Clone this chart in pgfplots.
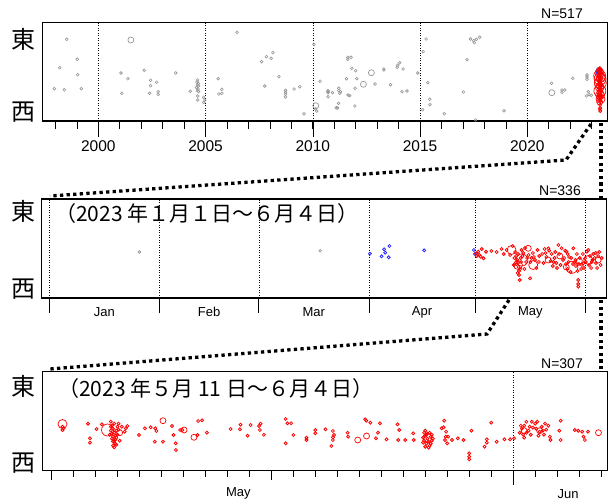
\documentclass[border=0pt]{standalone}
\usepackage{fontspec}
\setmainfont{Liberation Sans}
\newfontfamily\jp{Noto Sans CJK JP}
\usepackage{pgfplots}
\pgfplotsset{compat=1.18}
\definecolor{ptgray}{RGB}{150,150,150}
\definecolor{ptred}{RGB}{255,0,0}
\definecolor{ptblue}{RGB}{40,40,255}
\pgfplotsset{
  panel/.style={scale only axis, width=565pt, ymin=0, anchor=north west,
    axis line style={line width=1.5pt}, ytick=\empty, xtick pos=left,
    tick align=outside, tick style={black, line width=0.6pt},
    xmajorgrids, grid style={black, line width=0.5pt, dash pattern=on 1pt off 1.5pt},
    /pgf/number format/assume math mode=true,
    /pgf/number format/1000 sep={},
    xticklabel style={font=\fontsize{15.5}{15.5}\selectfont},
    clip=false},
  s/.style={only marks, mark=o, mark size=1.4pt, mark options={line width=0.6pt}},
  rs/.style={only marks, mark=o, mark size=1.5pt, mark options={line width=0.8pt}},
  m/.style={only marks, mark=o, mark size=3pt, mark options={line width=0.7pt}},
  l/.style={only marks, mark=o, mark size=4.5pt, mark options={line width=0.7pt}},
  xl/.style={only marks, mark=o, mark size=6pt, mark options={line width=0.7pt}},
}
\tikzset{conn/.style={line width=3.3pt, dash pattern=on 3.3pt off 3.3pt}}
\begin{document}
\begin{tikzpicture}
\useasboundingbox (0,0) rectangle (610pt,-502pt);
% connectors
\draw[conn] (591pt,-124pt) -- (566pt,-160pt) -- (50pt,-196pt);
\draw[conn] (601pt,-123pt) -- (601pt,-198pt);
\draw[conn] (601pt,-300pt) -- (601pt,-370pt);
\draw[conn] (509pt,-300pt) -- (487pt,-334pt) -- (50pt,-369pt);
% labels
\foreach \yy/\t in {-39/東,-112/西,-211/東,-289/西,-386/東,-463/西}
  \node[font=\jp\fontsize{24}{24}\selectfont, inner sep=0pt] at (23pt,\yy pt) {\t};
\node[font=\fontsize{14}{14}\selectfont, anchor=east, inner sep=0pt] at (583pt,-14pt) {N=517};
\node[font=\fontsize{14}{14}\selectfont, anchor=east, inner sep=0pt] at (581pt,-190.5pt) {N=336};
\node[font=\fontsize{14}{14}\selectfont, anchor=east, inner sep=0pt] at (583pt,-364pt) {N=307};
\node[font=\jp\fontsize{21}{21}\selectfont, anchor=west, inner sep=0pt] at (55pt,-214pt) {（2023 年１月１日～６月４日）};
\node[font=\jp\fontsize{21}{21}\selectfont, anchor=west, inner sep=0pt] at (58pt,-389pt) {（2023 年５月 11 日～６月４日）};

% ---------------- panel 1 ----------------
\begin{axis}[panel, at={(42.7pt,-22.7pt)}, height=98.3pt, ymax=98.3,
  xmin=1997.41, xmax=2023.745,
  xtick={2000,2005,2010,2015,2020}, minor xtick={1998,...,2023},
  major tick length=16pt, minor tick length=8pt]
\addplot[s, ptgray] coordinates {
(1998.53,81.7) (1998.20,53.3) (1999.02,61.7) (1999.04,46.3) (1997.95,32.3) (1998.42,31.3) (1999.21,32.3)
(2001.06,48) (2001.38,42.3) (2001.10,27.7) (2002.14,50.7) (2002.44,40.7) (2002.44,35.3) (2002.72,38.7)
(2002.39,27.7) (2002.79,29.3) (2002.79,26.7) (2003.61,48) (2004.29,29.7)
(2004.63,41) (2004.60,39) (2004.66,37.5) (2004.62,36) (2004.68,35) (2004.58,33.5) (2004.65,32) (2004.62,30.5) (2004.67,29.5)
(2004.64,25) (2004.64,21) (2004.91,23.7) (2004.97,21) (2004.92,18.7)
(2005.59,42.3) (2005.76,31.7) (2005.62,27) (2005.76,27.7) (2006.47,88.7)
(2007.61,59.3) (2007.84,64.3) (2008.14,68.3) (2008.06,62.7) (2008.42,44.3) (2007.76,35)
(2008.73,30.7) (2008.73,28.7) (2008.73,26.7) (2008.73,24) (2009.13,32) (2009.39,34.3) (2009.59,7.3)
(2010.05,76.7) (2010.14,12) (2010.18,10) (2010.34,39.7)
(2010.71,29.3) (2010.71,24.3) (2010.71,30.3) (2010.71,28.3) (2010.92,28.3)
(2011.21,32.7) (2011.21,30.3) (2011.29,29.3) (2011.26,27.7) (2011.15,13) (2011.20,17.7)
(2011.63,63.7) (2011.63,61.7) (2011.78,63.7) (2011.82,52.7) (2012.00,50.3) (2011.57,42.3) (2012.05,42.3)
(2011.97,32.7) (2011.64,26) (2011.72,25.3) (2011.09,13.3) (2011.96,15)
(2012.90,37) (2013.31,52) (2013.31,51) (2013.62,36.3) (2013.96,55.7) (2013.93,53.7) (2014.05,58.3)
(2014.21,52) (2014.16,29.3) (2014.39,30) (2014.89,48)
(2015.28,82) (2015.14,69.3) (2015.36,38.3) (2015.45,21.7) (2015.46,16.3) (2015.12,11.3) (2016.13,7.3)
(2017.02,29) (2017.19,61.3) (2017.35,82) (2017.50,80.3) (2017.53,78.3) (2017.62,81.7) (2017.78,83.7)
(2017.59,1) (2018.91,10.3)
(2021.13,37.7) (2021.61,31) (2021.61,28.7) (2021.74,31) (2022.12,42.7)
(2022.78,46) (2022.78,44) (2022.78,41.7) (2022.84,29.3) (2022.75,25) (2022.87,26.3) (2022.98,25.7)
};
\addplot[m, ptgray] coordinates {(2001.52,81) (2012.73,48.3) (2012.36,36.7) (2010.14,15.3) (2021.14,28.3)};
\addplot[s, ptblue] coordinates {(2023.25,50) (2023.27,48) (2023.29,52) (2023.30,49)};
\addplot[rs, ptred] coordinates {
(2023.33,50) (2023.34,46) (2023.36,52) (2023.38,53) (2023.40,49) (2023.41,51) (2023.37,42) (2023.39,40)
(2023.35,38) (2023.38,36) (2023.41,35) (2023.36,31) (2023.39,28) (2023.38,25) (2023.40,20) (2023.39,16)
(2023.40,13) (2023.40,10) (2023.38,12) (2023.42,26) (2023.43,30) (2023.35,44) (2023.37,47) (2023.42,47)
(2023.36,40) (2023.41,40) (2023.35,33) (2023.42,37) (2023.37,28) (2023.41,30) (2023.36,24) (2023.41,24)
(2023.38,20) (2023.39,22) (2023.36,43) (2023.43,42) (2023.34,41) (2023.39,45) (2023.40,33) (2023.37,37)};
\addplot[m, ptred] coordinates {(2023.39,50) (2023.36,35) (2023.40,27) (2023.37,19) (2023.42,33) (2023.35,42) (2023.41,46) (2023.38,24)};
\addplot[l, ptred] coordinates {(2023.41,22) (2023.36,48) (2023.42,43) (2023.37,34) (2023.39,26)};
\addplot[xl, ptred] coordinates {(2023.37,45) (2023.40,38) (2023.38,30) (2023.39,42)};
\end{axis}

% ---------------- panel 2 ----------------
\begin{axis}[panel, at={(41.7pt,-199pt)}, height=99pt, ymax=99,
  xmin=-2.14, xmax=157,
  xtick={0,31,59,90,120,151}, xticklabels={}, major tick length=15pt]
\node[font=\fontsize{13}{13}\selectfont] at (axis cs:15.5,-14) {Jan};
\node[font=\fontsize{13}{13}\selectfont] at (axis cs:45,-14) {Feb};
\node[font=\fontsize{13}{13}\selectfont] at (axis cs:74.5,-14) {Mar};
\node[font=\fontsize{13}{13}\selectfont] at (axis cs:105,-14) {Apr};
\node[font=\fontsize{13}{13}\selectfont] at (axis cs:135.5,-14) {May};
\addplot[s, ptgray] coordinates {(25.4,46) (76.3,47.3)};
\addplot[rs, ptblue] coordinates {(90.3,44.3) (94.3,48.7) (94.6,45.3) (95.8,52) (93.6,41.7) (95.6,40.7) (105.6,47.7) (119.6,48) (119.9,44)};
\addplot[rs, ptred] coordinates {
(120.2,44.7) (120.8,46.3) (121.5,41.3) (122.3,39.7) (121.8,49) (123.0,46.3) (120.4,42) (121.1,43) (124.5,47)
(127.4,49) (128.8,48) (129.8,43) (130.5,52) (131.2,46) (131.5,42) (131.8,38) (132.0,35) (132.2,31) (132.3,27)
(132.3,23) (132.5,18) (132.0,44) (132.8,40) (133.0,48) (133.5,45) (134.0,50) (134.3,36) (135.0,43) (135.4,19.7)
(135.8,40) (136.2,45) (136.8,38) (137.5,48) (138.0,42) (138.8,44) (139.2,35) (139.5,49) (140.0,41) (140.6,49.7)
(140.8,47.3) (141.2,37) (141.8,32) (142.3,40) (142.8,35) (143.4,53) (143.6,44) (144.3,49.7) (144.7,38) (145.3,47.3)
(145.7,46.3) (145.5,34) (146.0,29) (146.4,41) (146.8,26) (147.6,49.7) (148.0,36) (148.3,32) (148.6,44) (148.8,27)
(149.0,18) (149.0,14) (149.0,11.3) (149.4,40) (149.8,29) (150.4,34.7) (150.9,39.7) (151.4,46.3) (151.8,48) (152.3,42)
(152.8,36) (153.2,44) (153.6,40) (154.0,35) (154.3,30) (154.9,46) (155.3,33) (130.8,33) (133.8,29) (137.2,30)
(131.0,40) (131.6,34) (132.6,29) (131.9,25) (133.3,42) (132.9,36) (134.6,40) (135.5,36) (136.5,41) (137.9,36)
(139.8,45) (141.5,44) (142.0,36) (143.0,30) (144.0,33) (145.0,40) (146.2,36) (147.0,40) (147.5,34) (148.2,38)
(149.2,34) (150.0,33) (150.6,30) (151.1,36) (152.0,33) (152.6,30) (153.0,38) (153.9,45) (154.6,42) (155.6,40)
(126.0,46) (128.0,44) (150.3,44) (146.0,44) (142.5,46)};
\addplot[m, ptred] coordinates {(134.9,49.7) (154.6,38) (143.8,42) (140.5,38) (149.3,37) (145.6,31)};
\addplot[l, ptred] coordinates {(130.2,48) (136.3,33) (151.8,38) (132.0,33)};
\addplot[xl, ptred] coordinates {(133.1,38) (147.2,30.7)};
\end{axis}

% ---------------- panel 3 ----------------
\begin{axis}[panel, at={(42.7pt,-371.7pt)}, height=99pt, ymax=99,
  xmin=-0.4, xmax=25.3,
  xtick={21}, xticklabels={}, major tick length=14pt,
  minor xtick={0,...,25}, minor tick length=6pt,
  extra x ticks={0,10}, extra x tick labels={}, extra x tick style={major tick length=9pt, grid=none}]
\node[font=\fontsize{13}{13}\selectfont] at (axis cs:8.5,-23) {May};
\node[font=\fontsize{13}{13}\selectfont] at (axis cs:23.5,-23) {Jun};
\addplot[rs, ptred] coordinates {
(0.5,44) (0.5,40.7) (0.55,42.4) (1.66,47) (2.05,41.7) (1.75,32.4) (1.75,28) (2.29,46.4)
(2.7,49) (2.75,45) (2.8,42) (2.85,38) (2.9,35) (2.75,32) (2.8,29) (2.95,26) (2.85,23.4) (3.0,44) (2.95,40) (3.05,47) (2.65,36) (2.9,31)
(2.7,40) (2.75,37) (2.8,34) (2.85,30) (2.9,27) (3.0,36) (3.05,41) (2.7,44) (2.85,47) (2.95,33) (3.1,30) (2.8,25)
(3.2,44) (3.38,42.4) (3.45,44.7) (3.33,39) (3.98,35.7) (4.25,42.4) (4.51,43.4) (4.72,42.4) (4.77,39.7)
(4.7,29) (5.07,29) (5.48,44.7) (5.55,35.7) (5.65,27.4) (5.66,20.7) (5.85,40.7) (5.95,40.7)
(6.64,35.7) (6.67,49.7) (6.85,50.4) (7.07,38) (8.15,41.7) (8.57,41.4) (8.6,46) (8.92,35) (9.06,45.7)
(9.44,44.7) (9.51,47) (9.48,40.7) (9.66,36) (10.65,51.7) (10.73,47.4) (10.9,47.4) (11.0,35.7) (10.65,27.4)
(11.6,33) (11.6,30.7) (12.0,40.7) (12.0,37.4) (12.46,41.4)
(12.8,39.7) (12.85,35.7) (12.8,33.4) (12.8,30.7) (12.73,24.7) (13.47,38) (13.49,34)
(14.27,51.4) (14.32,50) (14.5,48) (14.76,32.4) (14.85,38) (14.94,47.4) (15.24,31.4)
(15.74,46.4) (15.82,40.7) (15.77,30.7) (16.09,30.7) (16.48,30.7) (16.45,37.4)
(16.95,38) (17.0,35) (17.1,32) (17.15,29) (17.05,27) (17.2,25) (17.3,30) (17.25,34) (17.1,37) (17.0,24)
(16.9,33) (16.95,30) (17.05,36) (17.2,38) (17.25,27) (17.35,32) (17.15,23) (17.0,40) (17.3,36) (16.9,28)
(17.75,42.4) (17.84,43.4) (17.93,34) (17.9,30.7) (18.0,27.4) (17.86,50) (17.95,39) (18.04,34) (18.22,30.7)
(18.48,32.4) (18.74,30.7) (19.0,17.4) (19.0,14) (19.0,11.4) (19.1,40) (19.8,31.4) (19.8,28) (19.7,24)
(20.0,48) (20.25,29) (20.6,31.4) (20.86,31.4) (21.04,32.4)
(21.3,38) (21.4,42) (21.5,45) (21.6,49) (21.7,40) (21.8,36) (21.9,43) (22.0,47) (22.1,49) (22.2,39)
(22.3,44) (22.4,36) (22.5,41) (21.5,33) (22.6,45) (22.7,30.7) (22.67,34)
(21.35,45) (21.45,36) (21.6,38) (21.75,44) (21.85,49) (22.05,42) (22.15,35) (22.35,40) (22.45,47)
(23.1,40) (23.16,50) (23.16,30.7) (23.8,40.7) (23.96,40) (24.14,39) (24.2,34) (24.26,30.7) (24.4,39)};
\addplot[m, ptred] coordinates {(5.07,50) (6.03,40.7) (6.48,33.4) (13.93,30.7) (14.33,34.7) (24.88,38) (21.5,40) (22.2,40) (3.1,38)};
\addplot[l, ptred] coordinates {(0.5,46.7) (17.1,33)};
\addplot[xl, ptred] coordinates {(2.55,40.7)};
\end{axis}
\end{tikzpicture}
\end{document}
